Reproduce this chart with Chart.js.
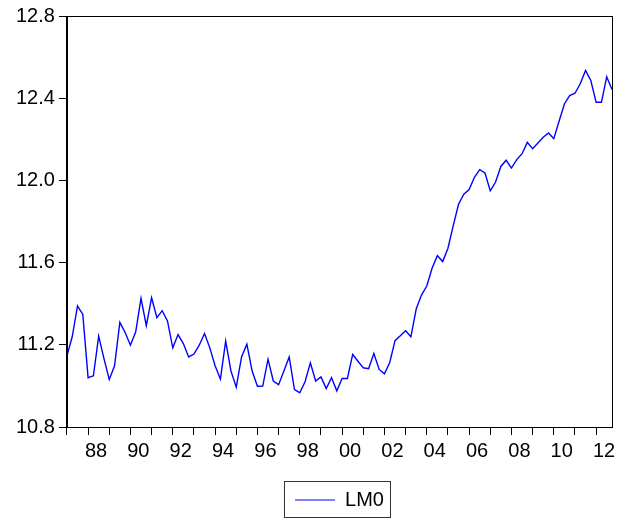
<!DOCTYPE html>
<html>
<head>
<meta charset="utf-8">
<script src="https://cdn.jsdelivr.net/npm/chart.js@4"></script>
<style>
  body { margin: 0; background: #fff; }
  #wrap { width: 617px; height: 520px; position: relative; }
</style>
</head>
<body>
<div id="wrap"><canvas id="lm0_chart"></canvas></div>
<script>
// quarterly series, first observation 1987Q1
var startYear = 1987;
var seriesName = 'LM0';
var lm0_1987_1994 = [11.146, 11.239, 11.389, 11.348, 11.040, 11.049, 11.242, 11.133,
    11.031, 11.098, 11.309, 11.260, 11.198, 11.263, 11.426, 11.293,
    11.429, 11.332, 11.366, 11.316, 11.185, 11.250, 11.206, 11.141,
    11.155, 11.198, 11.255, 11.185, 11.098, 11.033, 11.218, 11.072];
var lm0_1995_2002 = [10.994, 11.141, 11.203, 11.072, 10.998, 10.999, 11.130, 11.024,
    11.006, 11.073, 11.141, 10.982, 10.967, 11.020, 11.112, 11.024,
    11.044, 10.987, 11.040, 10.976, 11.036, 11.036, 11.153, 11.120,
    11.088, 11.084, 11.158, 11.080, 11.059, 11.114, 11.220, 11.244];
var lm0_2003_2012 = [11.268, 11.239, 11.374, 11.442, 11.486, 11.572, 11.634, 11.605,
    11.670, 11.780, 11.884, 11.933, 11.955, 12.015, 12.052, 12.036,
    11.949, 11.992, 12.068, 12.098, 12.060, 12.101, 12.130, 12.185,
    12.154, 12.182, 12.210, 12.231, 12.203, 12.288, 12.372, 12.413,
    12.424, 12.470, 12.535, 12.486, 12.380, 12.380, 12.504, 12.442];
var yTicks = [10.8, 11.2, 11.6, 12.0, 12.4, 12.8];

var lm0 = lm0_1987_1994.concat(lm0_1995_2002, lm0_2003_2012);
var points = lm0.map(function (v, i) { return { x: i, y: v }; });
var lastIdx = lm0.length - 1;

Chart.defaults.font.family = '"Liberation Sans", Arial, sans-serif';
Chart.defaults.color = '#000';

// frame round the plot and box round the legend, as EViews draws them
var framePlugin = {
    id: 'frame',
    afterDraw: function (chart) {
        var ctx = chart.ctx, a = chart.chartArea;
        ctx.save();
        ctx.strokeStyle = '#000';
        ctx.lineWidth = 1;
        ctx.strokeRect(Math.round(a.left) + 0.5, Math.round(a.top) + 0.5,
            Math.round(a.right - a.left), Math.round(a.bottom - a.top));
        var hb = chart.legend.legendHitBoxes[0];
        if (hb) {
            ctx.strokeStyle = '#333';
            ctx.strokeRect(Math.round(hb.left - 11) + 0.5, Math.round(hb.top - 9) + 0.5,
                Math.round(hb.width + 17), 36);
        }
        ctx.restore();
    }
};

new Chart(document.getElementById('lm0_chart').getContext('2d'), {
    type: 'line',
    data: {
        datasets: [{
            label: seriesName,
            data: points,
            borderColor: '#0000ff',
            backgroundColor: '#0000ff',
            pointBorderColor: '#0000ff',
            pointBorderWidth: 1,
            borderWidth: 1.4,
            pointRadius: 0,
            tension: 0,
            fill: false
        }]
    },
    options: {
        responsive: true,
        maintainAspectRatio: false,
        animation: false,
        layout: { padding: { top: 2, left: 12, right: 5, bottom: 0 } },
        plugins: {
            tooltip: { enabled: false },
            legend: {
                position: 'bottom',
                fullSize: false,
                labels: {
                    usePointStyle: true,
                    pointStyle: 'line',
                    pointStyleWidth: 40,
                    font: { size: 20 },
                    padding: 6
                }
            }
        },
        scales: {
            x: {
                type: 'linear',
                min: 0,
                max: lastIdx,
                afterBuildTicks: function (scale) {
                    // year boundaries get a tick mark, even years get a label mid-year
                    var t = [];
                    for (var k = 0; k * 4 <= lastIdx; k++) {
                        t.push({ value: k * 4 });
                        if ((startYear + k) % 2 === 0) t.push({ value: k * 4 + 1.5 });
                    }
                    t.push({ value: lastIdx });
                    scale.ticks = t;
                },
                afterFit: function (scale) { scale.height += 17; },
                grid: {
                    drawOnChartArea: false,
                    tickLength: 8,
                    tickColor: function (c) {
                        return c.tick && c.tick.value % 4 === 0 ? '#000' : 'rgba(0,0,0,0)';
                    }
                },
                border: { color: '#000' },
                ticks: {
                    autoSkip: false,
                    maxRotation: 0,
                    padding: 4,
                    font: { size: 20 },
                    callback: function (value) {
                        if (value % 4 !== 1.5) return '';
                        var yr = startYear + (value - 1.5) / 4;
                        return String(yr % 100).padStart(2, '0');
                    }
                }
            },
            y: {
                min: yTicks[0],
                max: yTicks[yTicks.length - 1],
                afterBuildTicks: function (scale) {
                    scale.ticks = yTicks.map(function (v) { return { value: v }; });
                },
                grid: { drawOnChartArea: false, tickLength: 8, tickColor: '#000' },
                border: { color: '#000' },
                ticks: {
                    padding: 4,
                    font: { size: 20 },
                    callback: function (value) { return Number(value).toFixed(1); }
                }
            }
        }
    },
    plugins: [framePlugin]
});
</script>
</body>
</html>
